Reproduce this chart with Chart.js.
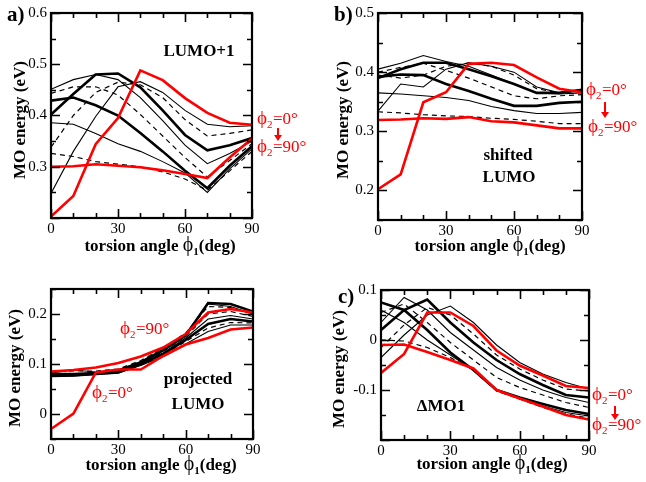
<!DOCTYPE html>
<html>
<head>
<meta charset="utf-8">
<script src="https://cdn.jsdelivr.net/npm/chart.js@4.4.1/dist/chart.umd.min.js"></script>
<style>
  html, body { margin: 0; padding: 0; background: #fff; }
  #fig { position: relative; width: 646px; height: 482px; overflow: hidden; background: #fff; }
  #fig canvas { position: absolute; }
</style>
</head>
<body>
<div id="fig">
  <canvas id="pa" style="left:0px;top:0px" width="323" height="262"></canvas>
  <canvas id="pb" style="left:323px;top:0px" width="323" height="262"></canvas>
  <canvas id="pd" style="left:0px;top:262px" width="323" height="220"></canvas>
  <canvas id="pc" style="left:323px;top:262px" width="323" height="220"></canvas>
</div>
<script>
// torsion angle phi1 (deg) on the x axis, one curve per phi2 value
const torsionAngles = [0, 10, 20, 30, 40, 50, 60, 70, 80, 90];
const phi2Values    = [0, 10, 20, 30, 40, 50, 60, 70, 80, 90];

// a) LUMO+1 energy (eV), rows: phi2 = 0 ... 90
const lumoPlus1 = [
  [0.203, 0.243, 0.344, 0.395, 0.488, 0.469, 0.434, 0.405, 0.386, 0.382],
  [0.248, 0.330, 0.398, 0.456, 0.466, 0.445, 0.410, 0.383, 0.378, 0.380],
  [0.338, 0.400, 0.445, 0.465, 0.460, 0.435, 0.392, 0.360, 0.365, 0.372],
  [0.402, 0.442, 0.480, 0.482, 0.455, 0.410, 0.362, 0.332, 0.342, 0.356],
  [0.451, 0.470, 0.480, 0.470, 0.435, 0.390, 0.342, 0.306, 0.326, 0.350],
  [0.443, 0.456, 0.456, 0.440, 0.402, 0.360, 0.318, 0.280, 0.312, 0.345],
  [0.429, 0.435, 0.420, 0.400, 0.366, 0.330, 0.292, 0.258, 0.302, 0.340],
  [0.386, 0.383, 0.365, 0.345, 0.330, 0.310, 0.288, 0.250, 0.296, 0.335],
  [0.326, 0.320, 0.310, 0.305, 0.300, 0.290, 0.276, 0.254, 0.292, 0.330],
  [0.300, 0.301, 0.305, 0.302, 0.299, 0.293, 0.286, 0.278, 0.318, 0.355]
];

// b) shifted LUMO energy (eV)
const shiftedLumo = [
  [0.202, 0.227, 0.349, 0.366, 0.414, 0.416, 0.412, 0.391, 0.372, 0.366],
  [0.334, 0.380, 0.375, 0.405, 0.416, 0.410, 0.400, 0.375, 0.365, 0.370],
  [0.395, 0.390, 0.395, 0.410, 0.415, 0.410, 0.395, 0.372, 0.365, 0.370],
  [0.390, 0.405, 0.416, 0.416, 0.405, 0.393, 0.380, 0.365, 0.365, 0.370],
  [0.405, 0.415, 0.428, 0.418, 0.410, 0.395, 0.380, 0.365, 0.363, 0.365],
  [0.400, 0.408, 0.415, 0.403, 0.390, 0.375, 0.360, 0.355, 0.360, 0.362],
  [0.392, 0.396, 0.395, 0.380, 0.368, 0.355, 0.343, 0.343, 0.348, 0.350],
  [0.365, 0.363, 0.360, 0.357, 0.352, 0.342, 0.335, 0.330, 0.330, 0.332],
  [0.333, 0.331, 0.328, 0.326, 0.325, 0.322, 0.320, 0.317, 0.313, 0.313],
  [0.319, 0.320, 0.322, 0.321, 0.324, 0.317, 0.315, 0.310, 0.305, 0.305]
];

// projected LUMO energy (eV)
const projectedLumo = [
  [-0.030, 0.001, 0.083, 0.089, 0.089, 0.116, 0.139, 0.152, 0.169, 0.173],
  [0.075, 0.076, 0.079, 0.082, 0.097, 0.115, 0.140, 0.165, 0.178, 0.178],
  [0.077, 0.078, 0.080, 0.083, 0.098, 0.118, 0.145, 0.172, 0.183, 0.182],
  [0.076, 0.077, 0.080, 0.083, 0.100, 0.120, 0.148, 0.180, 0.190, 0.185],
  [0.078, 0.079, 0.081, 0.085, 0.100, 0.122, 0.152, 0.190, 0.197, 0.190],
  [0.080, 0.080, 0.082, 0.086, 0.102, 0.125, 0.155, 0.200, 0.205, 0.195],
  [0.080, 0.080, 0.082, 0.087, 0.103, 0.127, 0.157, 0.222, 0.220, 0.205],
  [0.082, 0.088, 0.084, 0.088, 0.105, 0.130, 0.160, 0.220, 0.215, 0.200],
  [0.085, 0.086, 0.086, 0.090, 0.107, 0.132, 0.162, 0.215, 0.213, 0.200],
  [0.085, 0.088, 0.093, 0.102, 0.115, 0.133, 0.160, 0.203, 0.210, 0.203]
];

// c) ΔMO1 energy (eV)
const deltaMO1 = [
  [-0.066, -0.028, 0.055, 0.055, 0.028, -0.021, -0.051, -0.071, -0.092, -0.096],
  [-0.035, 0.010, 0.050, 0.068, 0.035, -0.010, -0.045, -0.068, -0.085, -0.098],
  [-0.015, 0.030, 0.065, 0.050, 0.012, -0.030, -0.058, -0.080, -0.098, -0.102],
  [0.020, 0.060, 0.081, 0.035, -0.005, -0.040, -0.068, -0.090, -0.110, -0.115],
  [0.035, 0.085, 0.060, 0.015, -0.020, -0.055, -0.080, -0.100, -0.115, -0.125],
  [0.055, 0.072, 0.035, -0.005, -0.040, -0.075, -0.095, -0.110, -0.125, -0.135],
  [0.075, 0.060, 0.020, -0.025, -0.060, -0.100, -0.115, -0.128, -0.140, -0.148],
  [0.060, 0.035, 0.000, -0.030, -0.060, -0.100, -0.118, -0.132, -0.145, -0.152],
  [0.000, -0.002, -0.015, -0.035, -0.060, -0.102, -0.118, -0.135, -0.148, -0.156],
  [-0.010, -0.009, -0.024, -0.040, -0.057, -0.100, -0.117, -0.133, -0.150, -0.159]
];

// labelled ticks
const xTickLabels   = [0, 30, 60, 90];
const yTicksLumo1   = [0.3, 0.4, 0.5, 0.6];
const yTicksShifted = [0.2, 0.3, 0.4, 0.5];
const yTicksProj    = [0, 0.1, 0.2];
const yTicksDelta   = [-0.1, 0, 0.1];

// line style of each phi2 curve
const curveStyle = ['red', 'thin', 'dashed', 'thick', 'thin', 'dashed', 'thick', 'thin', 'dashed', 'red'];

const SERIF = "'Liberation Serif', 'Times New Roman', 'DejaVu Serif', serif";
const PHI = '\u03d5';
Chart.defaults.font.family = SERIF;
Chart.defaults.color = '#000';

function buildDatasets(rows) {
  return rows.map((vals, i) => {
    const s = curveStyle[i];
    return {
      label: 'phi2 = ' + phi2Values[i],
      data: vals.map((v, j) => ({ x: torsionAngles[j], y: v })),
      borderColor: s === 'red' ? '#ff0000' : '#000000',
      borderWidth: s === 'red' ? 2.6 : s === 'thick' ? 2.6 : s === 'dashed' ? 1.2 : 1.1,
      borderDash: s === 'dashed' ? [5, 4] : [],
      pointRadius: 0,
      tension: 0,
      fill: false,
      order: s === 'red' ? 0 : 1
    };
  });
}

function fmt(v) { return String(Number(v.toFixed(2))); }

// text helpers
function drawPhiLabel(ctx, x, y, sub, rest, color, size) {
  ctx.save();
  ctx.fillStyle = color;
  ctx.textBaseline = 'alphabetic';
  ctx.textAlign = 'left';
  ctx.font = `${size + 2}px ${SERIF}`;
  ctx.fillText(PHI, x, y);
  let cx = x + ctx.measureText(PHI).width;
  ctx.font = `${Math.round(size * 0.65)}px ${SERIF}`;
  ctx.fillText(sub, cx, y + 4);
  cx += ctx.measureText(sub).width + 0.5;
  ctx.font = `${size}px ${SERIF}`;
  ctx.fillText(rest, cx, y);
  ctx.restore();
}
function arrowDown(ctx, x, y1, y2, color) {
  ctx.save();
  ctx.strokeStyle = color; ctx.fillStyle = color; ctx.lineWidth = 2;
  ctx.beginPath(); ctx.moveTo(x, y1); ctx.lineTo(x, y2 - 5); ctx.stroke();
  ctx.beginPath(); ctx.moveTo(x - 4, y2 - 6); ctx.lineTo(x + 4, y2 - 6); ctx.lineTo(x, y2); ctx.closePath(); ctx.fill();
  ctx.restore();
}
function boldText(ctx, text, x, y, size, align) {
  ctx.save();
  ctx.fillStyle = '#000';
  ctx.font = `bold ${size}px ${SERIF}`;
  ctx.textAlign = align || 'center';
  ctx.textBaseline = 'alphabetic';
  ctx.fillText(text, x, y);
  ctx.restore();
}
function xTitle(ctx, cx, baseline) {
  ctx.save();
  ctx.fillStyle = '#000';
  ctx.textBaseline = 'alphabetic';
  ctx.textAlign = 'left';
  const a = 'torsion angle ', b = '(deg)';
  ctx.font = `bold 17px ${SERIF}`;
  const wa = ctx.measureText(a).width, wb = ctx.measureText(b).width;
  ctx.font = `20px ${SERIF}`;
  const wp = ctx.measureText(PHI).width;
  ctx.font = `bold 11px ${SERIF}`;
  const ws = ctx.measureText('1').width;
  let x = cx - (wa + wp + ws + wb) / 2;
  ctx.font = `bold 17px ${SERIF}`; ctx.fillText(a, x, baseline); x += wa;
  ctx.font = `20px ${SERIF}`; ctx.fillText(PHI, x, baseline); x += wp;
  ctx.font = `bold 11px ${SERIF}`; ctx.fillText('1', x, baseline + 4); x += ws;
  ctx.font = `bold 17px ${SERIF}`; ctx.fillText(b, x, baseline);
  ctx.restore();
}
function yTitle(ctx, cx, cy) {
  ctx.save();
  ctx.translate(cx, cy);
  ctx.rotate(-Math.PI / 2);
  ctx.fillStyle = '#000';
  ctx.font = `bold 17px ${SERIF}`;
  ctx.textAlign = 'center';
  ctx.textBaseline = 'middle';
  ctx.fillText('MO energy (eV)', 0, 0);
  ctx.restore();
}

// per-canvas annotation painters (kept outside the chart options)
const annotations = {};

// frame with inward ticks on all four sides, then the panel's text
const framePlugin = {
  id: 'frame',
  afterDraw(chart) {
    const { ctx, chartArea: a, scales: { x, y } } = chart;
    ctx.save();
    ctx.strokeStyle = '#000';
    ctx.lineWidth = 1.6;
    for (let v = 0; v <= 90; v += 10) {
      const px = Math.round(x.getPixelForValue(v)) + 0.5;
      const len = v % 30 === 0 ? 9 : 5;
      ctx.beginPath();
      ctx.moveTo(px, a.bottom); ctx.lineTo(px, a.bottom - len);
      ctx.moveTo(px, a.top); ctx.lineTo(px, a.top + len);
      ctx.stroke();
    }
    const lo = Math.ceil(y.min / 0.05 - 1e-6), hi = Math.floor(y.max / 0.05 + 1e-6);
    for (let k = lo; k <= hi; k++) {
      const v = k * 0.05;
      const py = Math.round(y.getPixelForValue(v)) + 0.5;
      const len = k % 2 === 0 ? 9 : 5;
      ctx.beginPath();
      ctx.moveTo(a.left, py); ctx.lineTo(a.left + len, py);
      ctx.moveTo(a.right, py); ctx.lineTo(a.right - len, py);
      ctx.stroke();
    }
    ctx.lineWidth = 2.2;
    ctx.strokeRect(a.left, a.top, a.right - a.left, a.bottom - a.top);
    ctx.restore();
    const paint = annotations[chart.canvas.id];
    if (paint) paint(ctx);
  }
};

function makePanel(id, rows, yMin, yMax, yTicks, geom, annotate) {
  annotations[id] = annotate;
  const canvas = document.getElementById(id);
  return new Chart(canvas, {
    type: 'line',
    data: { datasets: buildDatasets(rows) },
    options: {
      responsive: false,
      animation: false,
      devicePixelRatio: 1,
      layout: { padding: { left: 0, top: geom.top, right: geom.right, bottom: 0 } },
      plugins: { legend: { display: false }, tooltip: { enabled: false } },
      scales: {
        x: {
          type: 'linear', min: 0, max: 90,
          grid: { display: false, drawTicks: false, tickLength: 0 }, border: { display: false },
          afterBuildTicks: s => { s.ticks = xTickLabels.map(v => ({ value: v })); },
          afterFit: s => { s.height = geom.xh; },
          ticks: { color: '#000', font: { size: 15, family: SERIF }, padding: 2, maxRotation: 0, autoSkip: false, callback: v => fmt(v) }
        },
        y: {
          type: 'linear', min: yMin, max: yMax,
          grid: { display: false, drawTicks: false, tickLength: 0 }, border: { display: false },
          afterBuildTicks: s => { s.ticks = yTicks.map(v => ({ value: v })); },
          afterFit: s => { s.width = geom.yw; },
          ticks: { color: '#000', font: { size: 15, family: SERIF }, padding: 4, autoSkip: false, callback: v => fmt(v) }
        }
      }
    },
    plugins: [framePlugin]
  });
}

const RED = '#ff0000';

makePanel('pa', lumoPlus1, 0.2, 0.6, yTicksLumo1, { top: 10, right: 71, xh: 44, yw: 51 }, ctx => {
  boldText(ctx, 'a)', 7, 21, 21, 'left');
  boldText(ctx, 'LUMO+1', 199, 56, 17);
  drawPhiLabel(ctx, 257, 124, '2', '=0°', RED, 17);
  arrowDown(ctx, 278, 128, 141, RED);
  drawPhiLabel(ctx, 257, 152, '2', '=90°', RED, 17);
  yTitle(ctx, 21, 120);
  xTitle(ctx, 160, 251);
});

makePanel('pb', shiftedLumo, 0.15, 0.5, yTicksShifted, { top: 10, right: 64, xh: 42, yw: 55 }, ctx => {
  boldText(ctx, 'b)', 11, 21, 21, 'left');
  boldText(ctx, 'shifted', 185, 160, 17);
  boldText(ctx, 'LUMO', 186, 182, 17);
  drawPhiLabel(ctx, 263, 95, '2', '=0°', RED, 17);
  arrowDown(ctx, 282, 102, 118, RED);
  drawPhiLabel(ctx, 265, 132, '2', '=90°', RED, 17);
  yTitle(ctx, 21, 120);
  xTitle(ctx, 167, 251);
});

makePanel('pd', projectedLumo, -0.05, 0.25, yTicksProj, { top: 27, right: 70, xh: 43, yw: 51 }, ctx => {
  boldText(ctx, 'projected', 198, 122, 17);
  boldText(ctx, 'LUMO', 198, 147, 17);
  drawPhiLabel(ctx, 120, 72, '2', '=90°', RED, 17);
  drawPhiLabel(ctx, 92, 136, '2', '=0°', RED, 17);
  yTitle(ctx, 16, 106);
  xTitle(ctx, 161, 208);
});

makePanel('pc', deltaMO1, -0.2, 0.1, yTicksDelta, { top: 28, right: 57, xh: 42, yw: 58 }, ctx => {
  boldText(ctx, 'c)', 15, 41, 21, 'left');
  boldText(ctx, '\u0394MO1', 118, 149, 17);
  drawPhiLabel(ctx, 269, 138, '2', '=0°', RED, 17);
  arrowDown(ctx, 292, 144, 158, RED);
  drawPhiLabel(ctx, 269, 168, '2', '=90°', RED, 17);
  yTitle(ctx, 17, 107);
  xTitle(ctx, 169, 207);
});
</script>
</body>
</html>
